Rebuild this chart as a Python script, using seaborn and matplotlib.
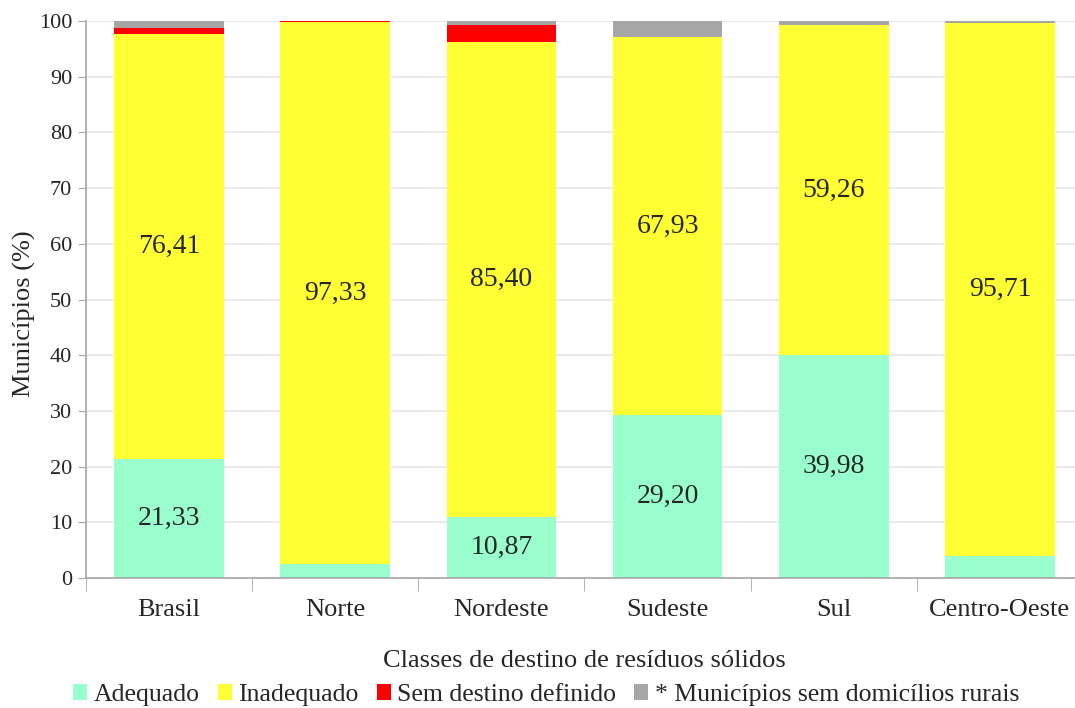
import numpy as np
import pandas as pd
import matplotlib
matplotlib.use("Agg")
import matplotlib.pyplot as plt
import seaborn as sns
from matplotlib.patches import Patch

regioes = ['Brasil', 'Norte', 'Nordeste', 'Sudeste', 'Sul', 'Centro-Oeste']
adequado = [21.33, 2.50, 10.87, 29.20, 39.98, 4.00]
inadequado = [76.41, 97.33, 85.40, 67.93, 59.26, 95.71]
sem_destino = [0.97, 0.17, 3.10, 0.00, 0.00, 0.00]
sem_rurais = [1.29, 0.00, 0.63, 2.87, 0.76, 0.29]

classes = ['Adequado', 'Inadequado', 'Sem destino definido', '* Municípios sem domicílios rurais']
cores = ['#99FFCC', '#FFFF33', '#FF0000', '#A6A6A6']

# rótulos só nos segmentos maiores
rotulos_adequado = [True, False, True, True, True, False]
rotulos_inadequado = [True] * 6

df = pd.DataFrame({
    'regiao': regioes,
    'Adequado': adequado,
    'Inadequado': inadequado,
    'Sem destino definido': sem_destino,
    '* Municípios sem domicílios rurais': sem_rurais,
})
cum = df[classes].cumsum(axis=1)

sns.set_style('white')
plt.rcParams['font.family'] = ['Liberation Serif', 'DejaVu Serif']

fig = plt.figure(figsize=(10.75, 7.08), dpi=100)
ax = fig.add_axes([0.08, 0.1836, 0.9274, 0.7867])

# barras empilhadas: desenha do topo acumulado para baixo
for classe, cor in reversed(list(zip(classes, cores))):
    sns.barplot(x=df['regiao'], y=cum[classe], color=cor, width=0.66,
                saturation=1, ax=ax, zorder=2, linewidth=0)

for i in range(len(regioes)):
    if rotulos_adequado[i]:
        ax.text(i, adequado[i] / 2, f'{adequado[i]:.2f}'.replace('.', ','),
                ha='center', va='center', fontsize=20, zorder=3)
    if rotulos_inadequado[i]:
        ax.text(i, adequado[i] + inadequado[i] / 2, f'{inadequado[i]:.2f}'.replace('.', ','),
                ha='center', va='center', fontsize=20, zorder=3)

ax.set_ylim(0, 100)
ax.set_xlim(-0.5, 5.5)
ax.set_yticks(np.arange(0, 101, 10))
ax.yaxis.grid(True, color='#E6E6E6', linewidth=1.2, zorder=0)
ax.set_axisbelow(True)
for s in ['top', 'right']:
    ax.spines[s].set_visible(False)
for s in ['left', 'bottom']:
    ax.spines[s].set_color('#A6A6A6')
    ax.spines[s].set_linewidth(1.2)

ax.tick_params(axis='y', which='major', direction='out', length=6, color='#A6A6A6',
               labelsize=16, pad=4, left=True)
ax.tick_params(axis='x', which='major', length=0, labelsize=19, pad=15)
ax.set_xticks(np.arange(-0.5, 6.0, 1.0), minor=True)
ax.tick_params(axis='x', which='minor', direction='out', length=9, color='#A6A6A6',
               bottom=True)

ax.set_ylabel('Municípios (%)', fontsize=19, labelpad=8)
ax.yaxis.set_label_coords(-0.05, 0.474)
ax.set_xlabel('Classes de destino de resíduos sólidos', fontsize=19, labelpad=21)

handles = [Patch(facecolor=c, edgecolor='none') for c in cores]
fig.legend(handles, classes, loc='lower center', bbox_to_anchor=(0.508, -0.03), ncol=4,
           frameon=False, fontsize=18.5, handlelength=0.55, handleheight=0.55,
           handletextpad=0.25, columnspacing=0.7)

fig.savefig('out.png', dpi=100)
